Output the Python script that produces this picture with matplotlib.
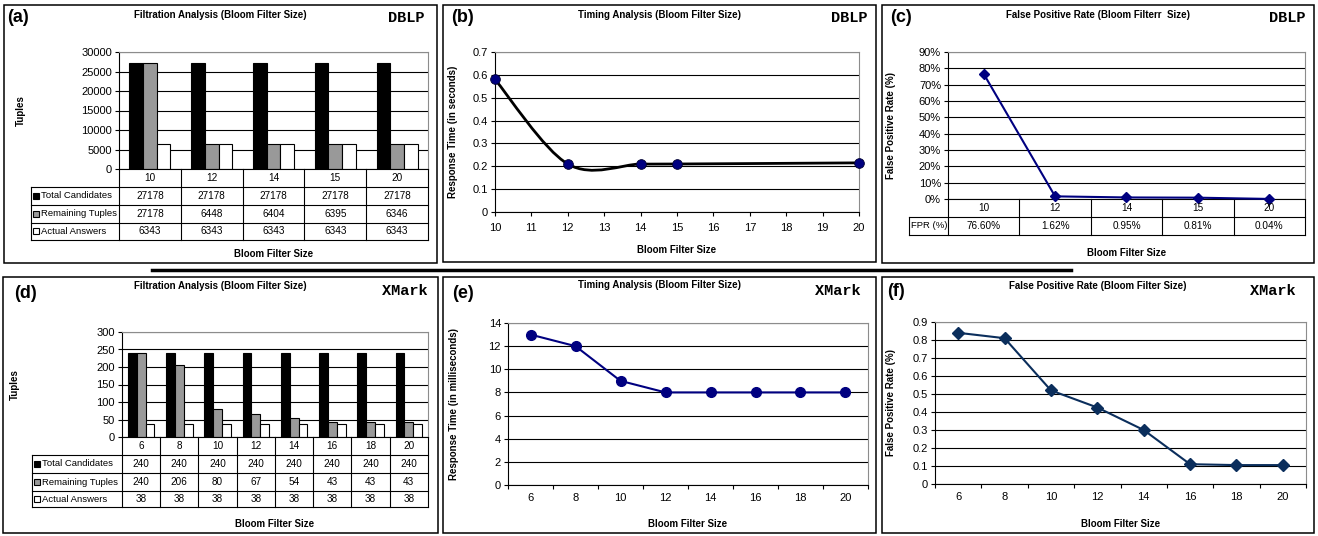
import numpy as np
import matplotlib.pyplot as plt
from matplotlib.path import Path
from matplotlib.patches import PathPatch, Rectangle
from matplotlib.lines import Line2D
from matplotlib.transforms import blended_transform_factory

plt.rcParams.update({
    "font.family": "Liberation Sans",
    "font.size": 8,
    "axes.linewidth": 0.8,
})

# ---------------------------------------------------------------------------
# Data
# ---------------------------------------------------------------------------

dblp_sizes = ["10", "12", "14", "15", "20"]
dblp_total = [27178, 27178, 27178, 27178, 27178]
dblp_remaining = [27178, 6448, 6404, 6395, 6346]
dblp_answers = [6343, 6343, 6343, 6343, 6343]

dblp_time_x = [10, 12, 14, 15, 20]
dblp_time = [0.58, 0.21, 0.21, 0.21, 0.215]

dblp_fpr = [76.60, 1.62, 0.95, 0.81, 0.04]

xmark_sizes = ["6", "8", "10", "12", "14", "16", "18", "20"]
xmark_total = [240, 240, 240, 240, 240, 240, 240, 240]
xmark_remaining = [240, 206, 80, 67, 54, 43, 43, 43]
xmark_answers = [38, 38, 38, 38, 38, 38, 38, 38]

xmark_time = [13, 12, 9, 8, 8, 8, 8, 8]
xmark_fpr = [0.84, 0.81, 0.52, 0.425, 0.30, 0.11, 0.105, 0.105]

series_names = ["Total Candidates", "Remaining Tuples", "Actual Answers"]

ticks_a = [0, 5000, 10000, 15000, 20000, 25000, 30000]
ticks_b = [0, 0.1, 0.2, 0.3, 0.4, 0.5, 0.6, 0.7]
ticks_b_x = list(range(10, 21))
ticks_c = [0, 10, 20, 30, 40, 50, 60, 70, 80, 90]
ticks_d = [0, 50, 100, 150, 200, 250, 300]
ticks_e = [0, 2, 4, 6, 8, 10, 12, 14]
ticks_f = [0, 0.1, 0.2, 0.3, 0.4, 0.5, 0.6, 0.7, 0.8, 0.9]

# ---------------------------------------------------------------------------
# Helpers (everything positioned in pixels of the 1318x536 canvas)
# ---------------------------------------------------------------------------

W, H = 1318, 536
fig = plt.figure(figsize=(W / 100, H / 100), dpi=100)

EDGE_GRAY = "#8c8c8c"
NAVY = "#000080"
BAR_COLORS = ["black", "#999999", "white"]
FS_T = 7.0
FS_TAB = 7.2
FS_ROW = 6.8


def px_axes(rect):
    l, t, r, b = rect
    return fig.add_axes([l / W, 1 - b / H, (r - l) / W, (b - t) / H])


def fig_text(x, y, s, **kw):
    fig.text(x / W, 1 - y / H, s, **kw)


def frame(l, t, r, b):
    fig.add_artist(Rectangle((l / W, 1 - b / H), (r - l) / W, (b - t) / H,
                             transform=fig.transFigure, fill=False,
                             ec="black", lw=1.1))


def decorate(box, letter, letter_xy, title, title_y, dataset, dataset_xy,
             rect, ylabel, ylabel_x, xlabel_y):
    frame(*box)
    fig_text(*letter_xy, letter, fontsize=13, fontweight="bold",
             ha="left", va="center")
    fig_text((box[0] + box[2]) / 2, title_y, title, fontsize=FS_T,
             fontweight="bold", ha="center", va="center")
    fig_text(*dataset_xy, dataset, family="Liberation Mono", fontsize=11,
             fontweight="bold", ha="right", va="center")
    l, t, r, b = rect
    fig_text(ylabel_x, (t + b) / 2, ylabel, fontsize=FS_T, fontweight="bold",
             rotation=90, ha="center", va="center")
    fig_text((l + r) / 2, xlabel_y, "Bloom Filter Size", fontsize=FS_T,
             fontweight="bold", ha="center", va="center")


def style_axes(ax, yticks, labels=None):
    ax.set_ylim(yticks[0], yticks[-1])
    ax.set_yticks(yticks)
    if labels is not None:
        ax.set_yticklabels(labels)
    ax.yaxis.grid(True, color="black", lw=0.8)
    ax.set_axisbelow(True)
    for s in ("top", "right"):
        ax.spines[s].set_color(EDGE_GRAY)
    ax.tick_params(axis="y", direction="out", length=3, width=0.8, pad=2)


def draw_table(ax, rect, header, rows, row_labels, row_px, label_left,
               text_x, keys=None, key_x=None):
    l, t, r, b = rect

    def ya(y):
        return (b - y) / (b - t)

    def xa(x):
        return (x - l) / (r - l)

    bt = blended_transform_factory(ax.transData, ax.transAxes)
    kw = dict(color="black", lw=0.8, clip_on=False)
    n = len(header)
    for i in range(n + 1):
        ax.plot([i - 0.5, i - 0.5], [ya(row_px[0]), ya(row_px[-1])],
                transform=bt, **kw)
    for y in row_px[1:]:
        ax.plot([xa(label_left), 1], [ya(y), ya(y)],
                transform=ax.transAxes, **kw)
    ax.plot([xa(label_left)] * 2, [ya(row_px[1]), ya(row_px[-1])],
            transform=ax.transAxes, **kw)
    for i, c in enumerate(header):
        ax.text(i, ya((row_px[0] + row_px[1]) / 2), c, transform=bt,
                ha="center", va="center", fontsize=FS_TAB)
    for k, (lab, vals) in enumerate(zip(row_labels, rows)):
        yc = ya((row_px[k + 1] + row_px[k + 2]) / 2)
        ax.text(xa(text_x), yc, lab, transform=ax.transAxes,
                ha="left", va="center", fontsize=FS_ROW)
        if keys is not None:
            ax.plot([xa(key_x)], [yc], marker="s", ms=4.2, mfc=keys[k],
                    mec="black", mew=0.8, transform=ax.transAxes,
                    clip_on=False)
        for i, v in enumerate(vals):
            ax.text(i, yc, v, transform=bt, ha="center", va="center",
                    fontsize=FS_TAB)


def bar_panel(rect, cats, series, yticks, row_px, label_left, key_x, text_x,
              width):
    ax = px_axes(rect)
    n = len(cats)
    x = np.arange(n)
    for k, vals in enumerate(series):
        ax.bar(x + (k - 1) * width, vals, width, color=BAR_COLORS[k],
               edgecolor="black", lw=0.8, zorder=2)
    ax.set_xlim(-0.5, n - 0.5)
    ax.set_xticks([])
    style_axes(ax, yticks)
    rows = [[str(v) for v in vals] for vals in series]
    draw_table(ax, rect, cats, rows, series_names, row_px, label_left,
               text_x, keys=BAR_COLORS, key_x=key_x)
    return ax


def smooth_path(xs, ys):
    # Excel-style smoothed line: cubic Bezier segments through the points
    pts = np.column_stack([xs, ys]).astype(float)
    n = len(pts)
    verts = [pts[0]]
    codes = [Path.MOVETO]
    for i in range(n - 1):
        p0 = pts[max(i - 1, 0)]
        p1, p2 = pts[i], pts[i + 1]
        p3 = pts[min(i + 2, n - 1)]
        verts += [p1 + (p2 - p0) / 6, p2 - (p3 - p1) / 6, p2]
        codes += [Path.CURVE4] * 3
    return Path(verts, codes)


def category_xaxis(ax, cats):
    n = len(cats)
    ax.set_xlim(-0.5, n - 0.5)
    ax.set_xticks(range(n))
    ax.set_xticklabels(cats)
    ax.set_xticks(np.arange(n + 1) - 0.5, minor=True)
    ax.tick_params(axis="x", which="major", length=0, pad=6)
    ax.tick_params(axis="x", which="minor", direction="out", length=3,
                   width=0.8)


# ---------------------------------------------------------------------------
# (a) DBLP filtration
# ---------------------------------------------------------------------------

rect_a = (119, 52, 428, 169)
bar_panel(rect_a, dblp_sizes, [dblp_total, dblp_remaining, dblp_answers],
          ticks_a, [169, 187, 205, 223, 240], 31, 35.5, 41, 0.222)
decorate((4, 5, 437, 263), "(a)", (7, 18),
         "Filtration Analysis (Bloom Filter Size)", 15, "DBLP", (425, 18),
         rect_a, "Tuples", 21, 254)

# ---------------------------------------------------------------------------
# (b) DBLP timing
# ---------------------------------------------------------------------------

rect_b = (495, 52, 859, 212)
ax = px_axes(rect_b)
ax.add_patch(PathPatch(smooth_path(dblp_time_x, dblp_time), fill=False,
                       ec="black", lw=2.0, zorder=3))
ax.plot(dblp_time_x, dblp_time, "o", ms=7, mfc=NAVY, mec="#000030",
        mew=0.6, zorder=4, clip_on=False)
ax.set_xlim(10, 20)
ax.set_xticks(ticks_b_x)
ax.tick_params(axis="x", direction="out", length=3, width=0.8, pad=5)
style_axes(ax, ticks_b, [f"{v:g}" for v in ticks_b])
decorate((443, 5, 876, 262), "(b)", (451, 18),
         "Timing Analysis (Bloom Filter Size)", 15, "DBLP", (867, 18),
         rect_b, "Response Time (in seconds)", 453, 250)

# ---------------------------------------------------------------------------
# (c) DBLP false positive rate
# ---------------------------------------------------------------------------

rect_c = (948, 52, 1305, 199)
ax = px_axes(rect_c)
ax.plot(range(len(dblp_fpr)), dblp_fpr, color=NAVY, lw=1.5, marker="D",
        ms=5.5, zorder=3, clip_on=False)
ax.set_xlim(-0.5, len(dblp_sizes) - 0.5)
ax.set_xticks([])
style_axes(ax, ticks_c, [f"{v}%" for v in ticks_c])
draw_table(ax, rect_c, dblp_sizes, [[f"{v:.2f}%" for v in dblp_fpr]],
           ["FPR (%)"], [199, 217, 235], 909, 911)
decorate((882, 5, 1314, 263), "(c)", (890, 18),
         "False Positive Rate (Bloom Filterr  Size)", 15, "DBLP", (1305, 18),
         rect_c, "False Positive Rate (%)", 891, 253)

# ---------------------------------------------------------------------------
# (d) XMark filtration
# ---------------------------------------------------------------------------

rect_d = (122, 332, 428, 437)
bar_panel(rect_d, xmark_sizes, [xmark_total, xmark_remaining, xmark_answers],
          ticks_d, [437, 455, 473, 491, 507], 32, 37, 42, 0.23)
decorate((3, 277, 438, 533), "(d)", (14, 293),
         "Filtration Analysis (Bloom Filter Size)", 286, "XMark", (428, 291),
         rect_d, "Tuples", 15, 524)

# ---------------------------------------------------------------------------
# (e) XMark timing
# ---------------------------------------------------------------------------

rect_e = (508, 323, 868, 485)
ax = px_axes(rect_e)
ax.plot(range(len(xmark_time)), xmark_time, color=NAVY, lw=1.5, marker="o",
        ms=7, zorder=3)
category_xaxis(ax, xmark_sizes)
style_axes(ax, ticks_e)
decorate((443, 277, 876, 533), "(e)", (452, 293),
         "Timing Analysis (Bloom Filter Size)", 285, "XMark", (861, 291),
         rect_e, "Response Time (in milliseconds)", 454, 524)

# ---------------------------------------------------------------------------
# (f) XMark false positive rate
# ---------------------------------------------------------------------------

rect_f = (935, 322, 1306, 484)
ax = px_axes(rect_f)
ax.plot(range(len(xmark_fpr)), xmark_fpr, color="#0b2e5c", lw=1.5,
        marker="D", ms=6.5, zorder=3)
category_xaxis(ax, xmark_sizes)
style_axes(ax, ticks_f, [f"{v:g}" for v in ticks_f])
decorate((882, 277, 1314, 533), "(f)", (887, 292),
         "False Positive Rate (Bloom Filter Size)", 286, "XMark", (1296, 291),
         rect_f, "False Positive Rate (%)", 891, 524)

# separator between the two rows
fig.add_artist(Line2D([152 / W, 1071 / W], [1 - 270 / H] * 2, lw=2.5,
                      color="black", transform=fig.transFigure))

fig.savefig("out.png", dpi=100)
